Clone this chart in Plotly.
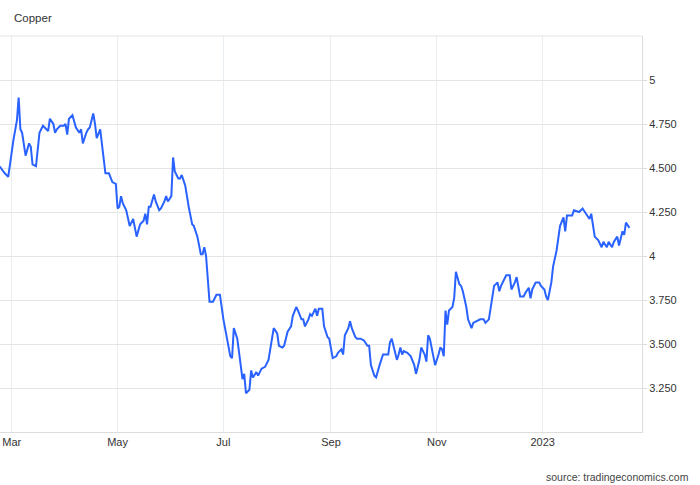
import plotly.graph_objects as go

# Copper futures, USD/lb
DATES = [
    "2022-02-22", "2022-02-24", "2022-02-25", "2022-02-27", "2022-03-01", "2022-03-02",
    "2022-03-04", "2022-03-05", "2022-03-06", "2022-03-07", "2022-03-09", "2022-03-11",
    "2022-03-12", "2022-03-13", "2022-03-15", "2022-03-17", "2022-03-19", "2022-03-21",
    "2022-03-22", "2022-03-23", "2022-03-25", "2022-03-26", "2022-03-27", "2022-03-29",
    "2022-03-31", "2022-04-01", "2022-04-02", "2022-04-03", "2022-04-05", "2022-04-07",
    "2022-04-09", "2022-04-10", "2022-04-11", "2022-04-13", "2022-04-14", "2022-04-15",
    "2022-04-17", "2022-04-18", "2022-04-19", "2022-04-21", "2022-04-24", "2022-04-25",
    "2022-04-26", "2022-04-28", "2022-04-30", "2022-05-01", "2022-05-02", "2022-05-03",
    "2022-05-04", "2022-05-06", "2022-05-08", "2022-05-10", "2022-05-12", "2022-05-14",
    "2022-05-16", "2022-05-17", "2022-05-18", "2022-05-19", "2022-05-20", "2022-05-22",
    "2022-05-23", "2022-05-25", "2022-05-26", "2022-05-28", "2022-05-29", "2022-05-30",
    "2022-06-01", "2022-06-02", "2022-06-03", "2022-06-05", "2022-06-06", "2022-06-07",
    "2022-06-09", "2022-06-11", "2022-06-13", "2022-06-14", "2022-06-16", "2022-06-18",
    "2022-06-19", "2022-06-20", "2022-06-21", "2022-06-23", "2022-06-25", "2022-06-27",
    "2022-06-29", "2022-07-01", "2022-07-03", "2022-07-05", "2022-07-06", "2022-07-07",
    "2022-07-09", "2022-07-11", "2022-07-12", "2022-07-13", "2022-07-14", "2022-07-16",
    "2022-07-17", "2022-07-18", "2022-07-20", "2022-07-21", "2022-07-22", "2022-07-23",
    "2022-07-25", "2022-07-27", "2022-07-28", "2022-07-30", "2022-08-01", "2022-08-02",
    "2022-08-04", "2022-08-05", "2022-08-07", "2022-08-09", "2022-08-10", "2022-08-12",
    "2022-08-13", "2022-08-15", "2022-08-16", "2022-08-17", "2022-08-19", "2022-08-20",
    "2022-08-21", "2022-08-23", "2022-08-24", "2022-08-25", "2022-08-27", "2022-08-28",
    "2022-08-30", "2022-08-31", "2022-09-02", "2022-09-04", "2022-09-05", "2022-09-07",
    "2022-09-08", "2022-09-09", "2022-09-11", "2022-09-12", "2022-09-13", "2022-09-15",
    "2022-09-16", "2022-09-18", "2022-09-20", "2022-09-22", "2022-09-23", "2022-09-24",
    "2022-09-26", "2022-09-27", "2022-09-29", "2022-10-01", "2022-10-03", "2022-10-04",
    "2022-10-05", "2022-10-06", "2022-10-07", "2022-10-09", "2022-10-10", "2022-10-11",
    "2022-10-12", "2022-10-13", "2022-10-15", "2022-10-17", "2022-10-19", "2022-10-20",
    "2022-10-22", "2022-10-23", "2022-10-25", "2022-10-26", "2022-10-27", "2022-10-28",
    "2022-10-30", "2022-10-31", "2022-11-02", "2022-11-03", "2022-11-04", "2022-11-05",
    "2022-11-06", "2022-11-07", "2022-11-08", "2022-11-10", "2022-11-11", "2022-11-12",
    "2022-11-14", "2022-11-15", "2022-11-16", "2022-11-18", "2022-11-19", "2022-11-21",
    "2022-11-22", "2022-11-24", "2022-11-26", "2022-11-28", "2022-11-29", "2022-12-01",
    "2022-12-03", "2022-12-04", "2022-12-06", "2022-12-07", "2022-12-08", "2022-12-10",
    "2022-12-11", "2022-12-13", "2022-12-14", "2022-12-16", "2022-12-17", "2022-12-19",
    "2022-12-21", "2022-12-22", "2022-12-24", "2022-12-25", "2022-12-26", "2022-12-28",
    "2022-12-30", "2022-12-31", "2023-01-02", "2023-01-03", "2023-01-04", "2023-01-06",
    "2023-01-07", "2023-01-09", "2023-01-10", "2023-01-11", "2023-01-13", "2023-01-14",
    "2023-01-15", "2023-01-18", "2023-01-19", "2023-01-22", "2023-01-24", "2023-01-27",
    "2023-01-28", "2023-01-29", "2023-01-31", "2023-02-02", "2023-02-04", "2023-02-05",
    "2023-02-07", "2023-02-08", "2023-02-10", "2023-02-11", "2023-02-13", "2023-02-14",
    "2023-02-16", "2023-02-17", "2023-02-18", "2023-02-20",
]

PRICES = [
    4.51, 4.48, 4.47, 4.45, 4.60, 4.66, 4.77, 4.90, 4.72, 4.70, 4.57, 4.64,
    4.62, 4.52, 4.51, 4.70, 4.74, 4.72, 4.71, 4.78, 4.75, 4.70, 4.72, 4.74,
    4.74, 4.75, 4.69, 4.78, 4.80, 4.73, 4.70, 4.72, 4.64, 4.70, 4.72, 4.73,
    4.81, 4.75, 4.67, 4.72, 4.47, 4.47, 4.47, 4.42, 4.41, 4.27, 4.28, 4.34,
    4.30, 4.26, 4.17, 4.21, 4.11, 4.18, 4.20, 4.24, 4.18, 4.28, 4.28, 4.35,
    4.31, 4.26, 4.27, 4.31, 4.34, 4.31, 4.34, 4.56, 4.48, 4.44, 4.44, 4.46,
    4.40, 4.28, 4.18, 4.17, 4.11, 4.01, 4.01, 4.05, 4.00, 3.74, 3.74, 3.78,
    3.78, 3.64, 3.53, 3.43, 3.42, 3.59, 3.53, 3.38, 3.30, 3.33, 3.22, 3.24,
    3.35, 3.31, 3.34, 3.32, 3.34, 3.36, 3.37, 3.41, 3.47, 3.59, 3.56, 3.49,
    3.48, 3.49, 3.57, 3.60, 3.66, 3.71, 3.69, 3.64, 3.64, 3.60, 3.64, 3.67,
    3.66, 3.70, 3.66, 3.70, 3.70, 3.60, 3.54, 3.53, 3.42, 3.43, 3.45, 3.47,
    3.44, 3.55, 3.59, 3.63, 3.59, 3.54, 3.53, 3.53, 3.52, 3.49, 3.49, 3.38,
    3.32, 3.31, 3.38, 3.44, 3.44, 3.44, 3.51, 3.53, 3.49, 3.41, 3.44, 3.48,
    3.44, 3.46, 3.45, 3.43, 3.38, 3.33, 3.41, 3.48, 3.44, 3.40, 3.55, 3.53,
    3.43, 3.38, 3.44, 3.48, 3.47, 3.43, 3.69, 3.61, 3.69, 3.71, 3.76, 3.91,
    3.84, 3.83, 3.80, 3.71, 3.64, 3.59, 3.62, 3.63, 3.64, 3.64, 3.62, 3.64,
    3.77, 3.83, 3.85, 3.80, 3.83, 3.87, 3.89, 3.89, 3.81, 3.85, 3.88, 3.77,
    3.77, 3.79, 3.82, 3.76, 3.81, 3.85, 3.85, 3.83, 3.81, 3.77, 3.75, 3.85,
    3.94, 4.03, 4.10, 4.17, 4.22, 4.14, 4.23, 4.23, 4.26, 4.25, 4.27, 4.22,
    4.21, 4.24, 4.11, 4.09, 4.05, 4.08, 4.05, 4.08, 4.05, 4.08, 4.11, 4.06,
    4.14, 4.12, 4.19, 4.16,
]

X_TICKS = ["2022-03-01", "2022-05-01", "2022-07-01", "2022-09-01", "2022-11-01", "2023-01-01"]
X_LABELS = ["Mar", "May", "Jul", "Sep", "Nov", "2023"]
Y_TICKS = [3.25, 3.5, 3.75, 4, 4.25, 4.5, 4.75, 5]
Y_LABELS = ["3.250", "3.500", "3.750", "4", "4.250", "4.500", "4.750", "5"]

FONT = "Liberation Sans, Arial, sans-serif"

fig = go.Figure(go.Scatter(
    x=DATES, y=PRICES, mode="lines",
    line=dict(color="#2962ff", width=2),
    hovertemplate="%{x|%b %d %Y}: %{y:.3f}<extra></extra>",
))

fig.update_layout(
    width=700, height=485,
    margin=dict(l=0, r=58, t=36, b=53),
    paper_bgcolor="white", plot_bgcolor="white",
    font=dict(family=FONT, size=11, color="#333"),
    showlegend=False,
    xaxis=dict(
        range=["2022-02-22 06:00", "2023-02-27 06:00"],
        tickvals=X_TICKS, ticktext=X_LABELS,
        showgrid=True, gridcolor="#e9eef3", gridwidth=1,
        showline=True, linecolor="#dddddd", linewidth=1,
        ticks="", zeroline=False,
        tickfont=dict(size=11, color="#333"),
    ),
    yaxis=dict(
        range=[3.0, 5.25], side="right",
        tickvals=Y_TICKS, ticktext=Y_LABELS,
        showgrid=True, gridcolor="#e4e4e4", gridwidth=1,
        showline=True, linecolor="#dddddd", linewidth=1,
        ticks="outside", ticklen=4, tickcolor="#dddddd",
        zeroline=False,
        tickfont=dict(size=11, color="#333"),
    ),
    shapes=[dict(type="line", xref="paper", yref="paper", x0=0, x1=1, y0=1, y1=1,
                 line=dict(color="#e4e4e4", width=1))],
    annotations=[
        dict(text="Copper", xref="paper", yref="paper", x=0, y=1,
             xshift=12, yshift=18, xanchor="left", yanchor="middle",
             showarrow=False, font=dict(size=11.5, color="#333", family=FONT)),
        dict(text="source: tradingeconomics.com", xref="paper", yref="paper",
             x=1, y=0, xshift=49, yshift=-45, xanchor="right", yanchor="middle",
             showarrow=False, font=dict(size=10.5, color="#444", family=FONT)),
    ],
)

# page body has a default 8px margin; remove it so the chart sits at the window corner
fig.write_html("out.html", config={"displayModeBar": False},
               post_script="document.body.style.margin='0';")
